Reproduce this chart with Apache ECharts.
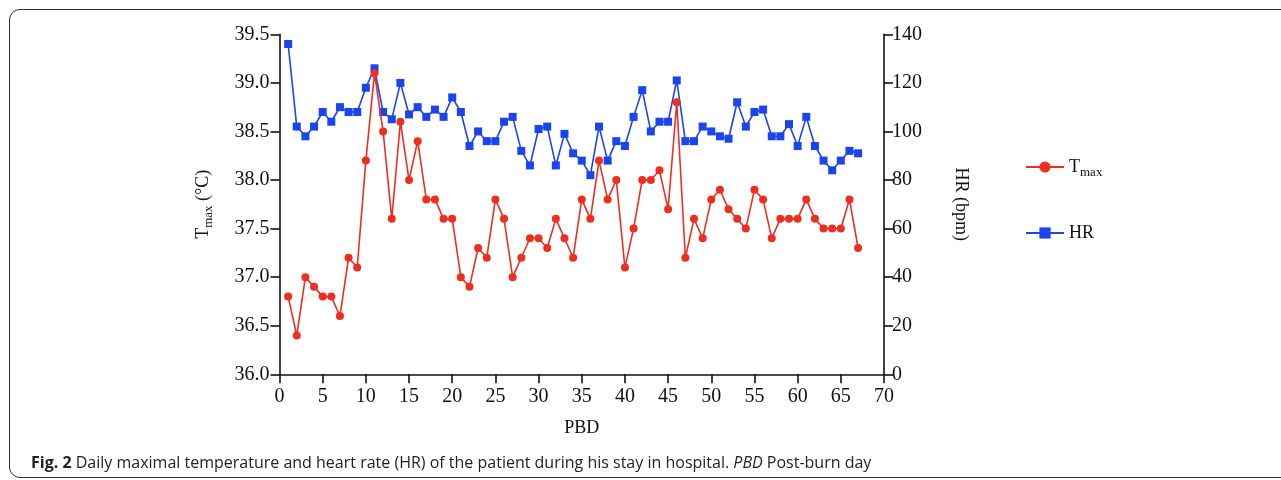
<!DOCTYPE html>
<html>
<head>
<meta charset="utf-8">
<script src="https://cdn.jsdelivr.net/npm/echarts@6/dist/echarts.min.js"></script>
<style>
  html, body { margin: 0; padding: 0; background: #fff; }
  #wrap { position: relative; width: 1281px; height: 480px; overflow: hidden; }
  #chart { position: absolute; left: 0; top: 0; width: 1281px; height: 480px; }
  #frame { position: absolute; left: 9px; top: 9px; width: 1300px; height: 469px; border: 1.6px solid #2e2e2e; border-radius: 11px; box-sizing: border-box; }
  #caption { position: absolute; left: 31px; top: 451px; font-family: "Open Sans", "Noto Sans", sans-serif; font-size: 16px; color: #222; white-space: nowrap; }
  #caption b { font-weight: 700; }
</style>
</head>
<body>
<div id="wrap">
  <div id="frame"></div>
  <div id="chart"></div>
  <div id="caption"><b>Fig. 2</b> Daily maximal temperature and heart rate (HR) of the patient during his stay in hospital. <i>PBD</i> Post-burn day</div>
</div>
<script>
const days = [1,2,3,4,5,6,7,8,9,10,11,12,13,14,15,16,17,18,19,20,21,22,23,24,25,26,27,28,29,30,31,32,33,34,35,36,37,38,39,40,41,42,43,44,45,46,47,48,49,50,51,52,53,54,55,56,57,58,59,60,61,62,63,64,65,66,67];
const tmax = [36.8,36.4,37.0,36.9,36.8,36.8,36.6,37.2,37.1,38.2,39.1,38.5,37.6,38.6,38.0,38.4,37.8,37.8,37.6,37.6,37.0,36.9,37.3,37.2,37.8,37.6,37.0,37.2,37.4,37.4,37.3,37.6,37.4,37.2,37.8,37.6,38.2,37.8,38.0,37.1,37.5,38.0,38.0,38.1,37.7,38.8,37.2,37.6,37.4,37.8,37.9,37.7,37.6,37.5,37.9,37.8,37.4,37.6,37.6,37.6,37.8,37.6,37.5,37.5,37.5,37.8,37.3];
const hr = [136,102,98,102,108,104,110,108,108,118,126,108,105,120,107,110,106,109,106,114,108,94,100,96,96,104,106,92,86,101,102,86,99,91,88,82,102,88,96,94,106,117,100,104,104,121,96,96,102,100,98,97,112,102,108,109,98,98,103,94,106,94,88,84,88,92,91];
const xTicks = {min: 0, max: 70, interval: 5};
const tTicks = {min: 36.0, max: 39.5, interval: 0.5};
const hrTicks = {min: 0, max: 140, interval: 20};

const serif = '"Liberation Serif", "DejaVu Serif", serif';
const red = '#ee2e1e';
const blue = '#1a44ee';
const axisCommon = {
  axisLine: { show: true, lineStyle: { color: '#111', width: 1.6 } },
  axisTick: { show: true, inside: false, length: 9, lineStyle: { color: '#111', width: 1.6 } },
  splitLine: { show: false },
  axisLabel: { color: '#111', fontFamily: serif, fontSize: 20 },
  nameTextStyle: { color: '#111', fontFamily: serif, fontSize: 18 }
};
const rich = {
  a: { fontFamily: serif, fontSize: 18, color: '#111', lineHeight: 24 },
  b: { fontFamily: serif, fontSize: 13, color: '#111', lineHeight: 24, verticalAlign: 'bottom' }
};

const chart = echarts.init(document.getElementById('chart'), null, { renderer: 'canvas' });
chart.setOption({
  animation: false,
  backgroundColor: 'transparent',
  grid: { left: 279.5, right: 397, top: 34.3, bottom: 105.7, containLabel: false },
  legend: {
    orient: 'vertical',
    left: 1020,
    top: 153,
    itemWidth: 38,
    itemHeight: 14,
    itemGap: 45,
    data: ['Tmax', 'HR'],
    formatter: function (n) { return n === 'Tmax' ? '{a|T}{b|max}' : '{a|HR}'; },
    textStyle: { fontFamily: serif, fontSize: 18, color: '#111', rich: rich }
  },
  xAxis: Object.assign({}, axisCommon, {
    type: 'value', min: xTicks.min, max: xTicks.max, interval: xTicks.interval,
    name: 'PBD', nameLocation: 'middle', nameGap: 45,
    axisLabel: Object.assign({}, axisCommon.axisLabel, { margin: 12 })
  }),
  yAxis: [
    Object.assign({}, axisCommon, {
      type: 'value', position: 'left', min: tTicks.min, max: tTicks.max, interval: tTicks.interval,
      name: '{a|T}{b|max}{a| (°C)}', nameLocation: 'middle', nameGap: 64, nameRotate: 90,
      nameTextStyle: Object.assign({}, axisCommon.nameTextStyle, { rich: rich }),
      axisLabel: Object.assign({}, axisCommon.axisLabel, { margin: 10, formatter: function (v) { return v.toFixed(1); } })
    }),
    Object.assign({}, axisCommon, {
      type: 'value', position: 'right', min: hrTicks.min, max: hrTicks.max, interval: hrTicks.interval,
      name: 'HR (bpm)', nameLocation: 'middle', nameGap: 68, nameRotate: -90,
      axisLabel: Object.assign({}, axisCommon.axisLabel, { margin: 8 })
    })
  ],
  series: [
    {
      name: 'HR', type: 'line', yAxisIndex: 1,
      data: days.map(function (d, i) { return [d, hr[i]]; }),
      symbol: 'rect', symbolSize: 8,
      lineStyle: { color: blue, width: 1.6 },
      itemStyle: { color: blue },
      z: 2
    },
    {
      name: 'Tmax', type: 'line', yAxisIndex: 0,
      data: days.map(function (d, i) { return [d, tmax[i]]; }),
      symbol: 'circle', symbolSize: 8,
      lineStyle: { color: red, width: 1.6 },
      itemStyle: { color: red },
      z: 3
    }
  ]
});
</script>
</body>
</html>
